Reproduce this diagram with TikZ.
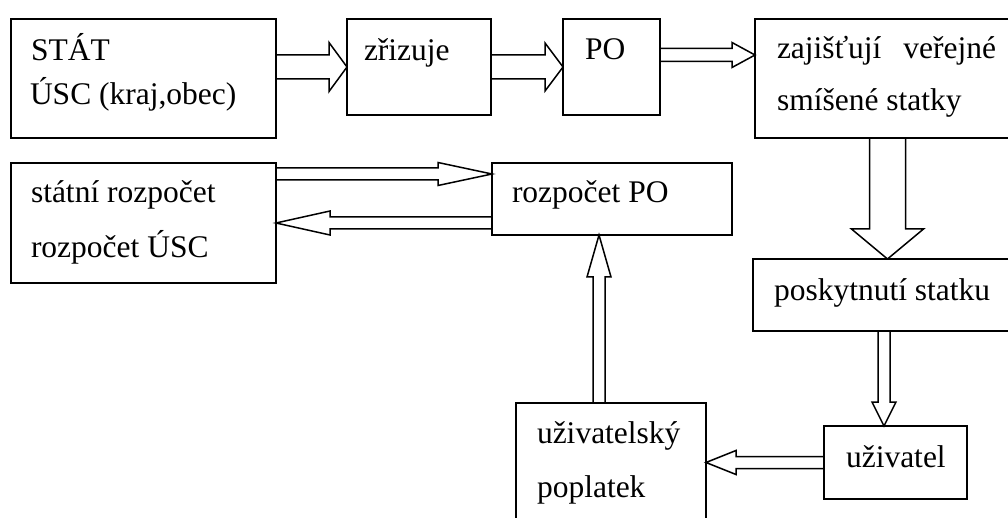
\documentclass[tikz,border=0pt]{standalone}
\usepackage{fontspec}
\setmainfont{Liberation Serif}
\usetikzlibrary{calc}
\tikzset{
  box/.style={draw, line width=1.8pt, anchor=north west, inner sep=0pt, outer sep=0pt},
  lbl/.style={anchor=base west, inner sep=0pt, outer sep=0pt, font=\fontsize{31.5}{38}\selectfont},
  fatline/.style={draw, line width=1.5pt, line join=miter},
}
\newcommand\fatarrow[5]{%
  \coordinate (fa-hb) at ($(#2)!#5!(#1)$);
  \draw[fatline] ($(#1)!#3!90:(#2)$) -- ($(fa-hb)!#3!90:(#2)$) -- ($(fa-hb)!#4!90:(#2)$) -- (#2)
     -- ($(fa-hb)!#4!-90:(#2)$) -- ($(fa-hb)!#3!-90:(#2)$) -- ($(#1)!#3!-90:(#2)$);
}
\begin{document}
\begin{tikzpicture}[x=1pt,y=-1pt]
\clip (0,0) rectangle (1008,518);
\fill[white] (0,0) rectangle (1008,518);
% boxes
\node[box, minimum width=265pt, minimum height=119pt] (stat) at (11,19) {};
\node[box, minimum width=144pt, minimum height=96pt] (zriz) at (347,19) {};
\node[box, minimum width=97pt, minimum height=96pt] (po) at (563,19) {};
\node[box, minimum width=257pt, minimum height=119pt] (zaj) at (755,19) {};
\node[box, minimum width=265pt, minimum height=120pt] (statni) at (11,163) {};
\node[box, minimum width=240pt, minimum height=72pt] (rpo) at (492,163) {};
\node[box, minimum width=259pt, minimum height=72pt] (posk) at (753,259) {};
\node[box, minimum width=190pt, minimum height=119pt] (popl) at (516,403) {};
\node[box, minimum width=143pt, minimum height=73pt] (uziv) at (824,426) {};
% labels
\node[lbl] (t1) at (31,61) {STÁT};
\node[lbl] (t2) at (30,105) {ÚSC (kraj,obec)};
\node[lbl] (t3) at (364,61) {zřizuje};
\node[lbl] (t4) at (585,60) {PO};
\node[lbl] (t5) at (777,59) {\makebox[219pt][s]{zajišťují veřejné}};
\node[lbl] (t6) at (777,111) {smíšené statky};
\node[lbl] (t7) at (31,203) {státní rozpočet};
\node[lbl] (t8) at (31,258) {rozpočet ÚSC};
\node[lbl] (t9) at (512,203) {rozpočet PO};
\node[lbl] (t10) at (774,300) {poskytnutí statku};
\node[lbl] (t11) at (537,443) {uživatelský};
\node[lbl] (t12) at (537,497) {poplatek};
\node[lbl] (t13) at (846,467) {uživatel};
% arrow end points
\coordinate (a1s) at (stat.east |- zriz.west);
\coordinate (a3s) at ([yshift=12pt]po.east);
\coordinate (a3e) at (a3s -| zaj.west);
\coordinate (a4e) at ([yshift=25pt]rpo.west);
\coordinate (a4s) at (a4e -| statni.east);
\coordinate (a5s) at (rpo.west |- statni.east);
\coordinate (a6s) at ([xshift=4pt]zaj.south);
\coordinate (a6e) at (a6s |- posk.north);
\coordinate (a7s) at ([xshift=1.5pt]posk.south);
\coordinate (a7e) at (a7s |- uziv.north);
\coordinate (a8e) at (uziv.west -| popl.east);
\coordinate (a9s) at ([xshift=-12pt]popl.north);
\coordinate (a9e) at (a9s |- rpo.south);
% arrows
\fatarrow{a1s}{zriz.west}{12pt}{24.5pt}{18pt}
\fatarrow{zriz.east}{po.west}{12pt}{24pt}{18pt}
\fatarrow{a3s}{a3e}{6.5pt}{12.5pt}{23pt}
\fatarrow{a4s}{a4e}{6pt}{11.5pt}{54pt}
\fatarrow{a5s}{statni.east}{6pt}{12pt}{54pt}
\fatarrow{a6s}{a6e}{18pt}{36pt}{30pt}
\fatarrow{a7s}{a7e}{6pt}{12pt}{24pt}
\fatarrow{uziv.west}{a8e}{6pt}{12pt}{30pt}
\fatarrow{a9s}{a9e}{6pt}{12pt}{42pt}
\end{tikzpicture}
\end{document}
